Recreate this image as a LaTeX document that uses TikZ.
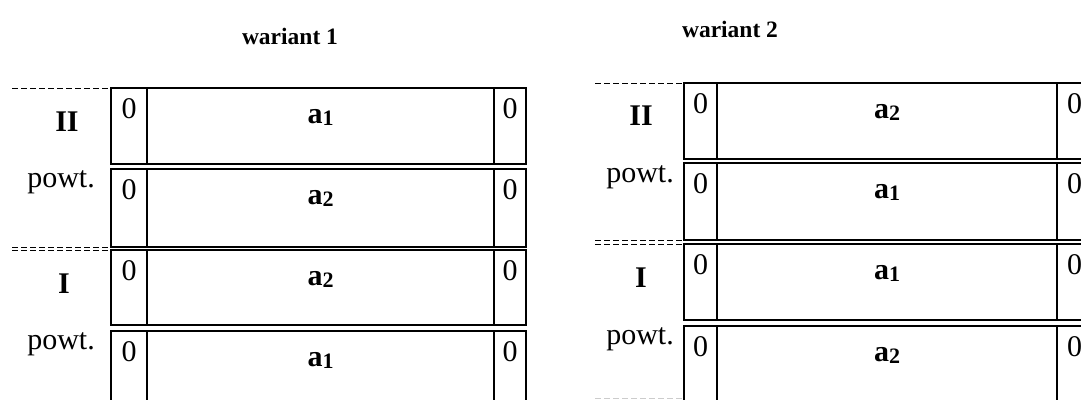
\documentclass[tikz,border=0pt]{standalone}
\usepackage{fontspec}
\setmainfont{Liberation Serif}
\tikzset{
  boxline/.style={line width=1.3pt, line join=miter},
  sepline/.style={line width=0.9pt, dash pattern=on 6pt off 3pt},
  zero/.style={anchor=base, inner sep=0pt, font=\fontsize{30}{36}\selectfont},
  sym/.style={anchor=base, inner sep=0pt, font=\fontsize{30}{36}\selectfont\bfseries},
  stage/.style={anchor=center, inner sep=0pt, font=\fontsize{30}{36}\selectfont\bfseries},
  rep/.style={anchor=base, inner sep=0pt, font=\fontsize{30}{36}\selectfont},
  title/.style={anchor=base, inner sep=0pt, font=\fontsize{23.5}{28}\selectfont\bfseries},
}
% bold "a" with a slightly lowered index
\newcommand{\avar}[1]{a\raisebox{-2pt}{\fontsize{22}{22}\selectfont #1}}
% one band: name, left x, inner-left x, inner-right x, right x, top y, bottom y, index
\newcommand{\bandrow}[8]{%
  \draw[boxline] (#2,#6) rectangle (#5,#7);
  \draw[boxline] (#3,#6) -- (#3,#7) (#4,#6) -- (#4,#7);
  \node[zero] (#1-l) at ({(#2+#3)/2},{#6+30}) {0};
  \node[zero] (#1-r) at ({(#4+#5)/2},{#6+30}) {0};
  \node[sym] (#1-m) at ({(#3+#4)/2},{#6+35}) {\avar{#8}};
}
\begin{document}
\begin{tikzpicture}[x=1pt, y=-1pt]
  \useasboundingbox (0,0) rectangle (1081,399);
  \fill[white] (0,0) rectangle (1081,399);

  % ---------- variant 1 ----------
  \node[title] (t1) at (290,44) {wariant 1};
  \bandrow{L1}{111}{147}{494}{526}{88}{164}{1}
  \bandrow{L2}{111}{147}{494}{526}{169}{247}{2}
  \bandrow{L3}{111}{147}{494}{526}{250}{325}{2}
  \bandrow{L4}{111}{147}{494}{526}{331}{412}{1}
  \draw[sepline] (12,88) -- (111,88);
  \draw[sepline] (12,247) -- (111,247);
  \draw[sepline] (12,250) -- (111,250);
  \node[stage] (LII) at (67,122) {II};
  \node[rep] (Lp2) at (61,187) {powt.};
  \node[stage] (LI) at (64,284) {I};
  \node[rep] (Lp1) at (61,349) {powt.};

  % ---------- variant 2 ----------
  \node[title] (t2) at (730,37) {wariant 2};
  \bandrow{R1}{684}{717}{1057}{1092}{83}{159}{2}
  \bandrow{R2}{684}{717}{1057}{1092}{163}{240}{1}
  \bandrow{R3}{684}{717}{1057}{1092}{244}{320}{1}
  \bandrow{R4}{684}{717}{1057}{1092}{326}{412}{2}
  \draw[sepline] (595,83) -- (684,83);
  \draw[sepline] (595,240) -- (684,240);
  \draw[sepline] (595,244) -- (684,244);
  \draw[sepline, gray!40] (595,398.5) -- (684,398.5);
  \node[stage] (RII) at (641,116) {II};
  \node[rep] (Rp2) at (640,182) {powt.};
  \node[stage] (RI) at (641,278) {I};
  \node[rep] (Rp1) at (640,344) {powt.};
\end{tikzpicture}
\end{document}
